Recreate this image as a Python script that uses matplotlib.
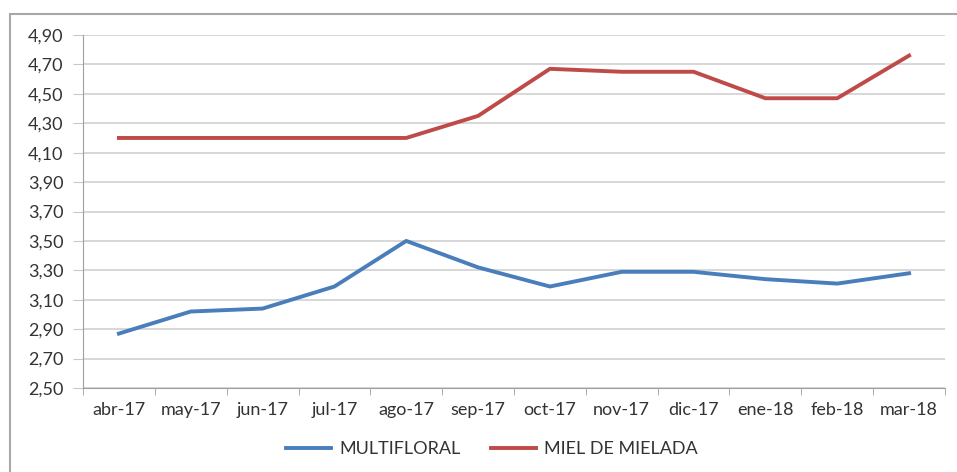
import matplotlib
matplotlib.use("Agg")
import matplotlib.pyplot as plt
from matplotlib.patches import Rectangle

months = ["abr-17", "may-17", "jun-17", "jul-17", "ago-17", "sep-17",
          "oct-17", "nov-17", "dic-17", "ene-18", "feb-18", "mar-18"]
multifloral = [2.87, 3.02, 3.04, 3.19, 3.50, 3.32, 3.19, 3.29, 3.29, 3.24, 3.21, 3.28]
miel_mielada = [4.20, 4.20, 4.20, 4.20, 4.20, 4.35, 4.67, 4.65, 4.65, 4.47, 4.47, 4.76]
yticks = [2.50, 2.70, 2.90, 3.10, 3.30, 3.50, 3.70, 3.90, 4.10, 4.30, 4.50, 4.70, 4.90]

plt.rcParams['font.family'] = ['Lato', 'DejaVu Sans']

fig = plt.figure(figsize=(9.57, 4.72), dpi=100)
ax = fig.add_axes([83/957, 1-388/472, (945-83)/957, (388-35)/472])

x = list(range(len(months)))
ax.plot(x, multifloral, color="#4a7ebb", lw=2.8, label="MULTIFLORAL", solid_joinstyle="round")
ax.plot(x, miel_mielada, color="#be4b48", lw=2.8, label="MIEL DE MIELADA", solid_joinstyle="round")

ax.set_xlim(-0.5, len(months) - 0.5)
ax.set_ylim(2.50, 4.90)
ax.set_yticks(yticks)
ax.set_yticklabels([f"{v:.2f}".replace(".", ",") for v in yticks], fontsize=13, color="#333333")
ax.set_xticks(x)
ax.set_xticklabels(months, fontsize=13, color="#333333")
ax.set_xticks([i - 0.5 for i in range(len(months) + 1)], minor=True)
ax.tick_params(axis='x', which='major', length=0, pad=10)
ax.tick_params(axis='x', which='minor', length=5, color="#a0a0a0", direction='out')
ax.tick_params(axis='y', length=7, color="#c8c8c8", pad=7)

ax.grid(axis='y', color="#d4d4d4", lw=1.3)
ax.set_axisbelow(True)
for s in ['top', 'right']:
    ax.spines[s].set_visible(False)
ax.spines['left'].set_color("#a0a0a0")
ax.spines['bottom'].set_color("#a0a0a0")

fig.legend(loc='center', bbox_to_anchor=(492/957, 1-449/472), ncol=2, frameon=False,
           fontsize=13, handlelength=2.5, columnspacing=1.7, handletextpad=0.45,
           labelcolor="#333333")

fig.patches.append(Rectangle((10/957, -0.05), 1.1, 1-14/472 + 0.05, transform=fig.transFigure,
                             fill=False, edgecolor="#a8a8a8", lw=1.5))

fig.savefig("out.png", dpi=100)
